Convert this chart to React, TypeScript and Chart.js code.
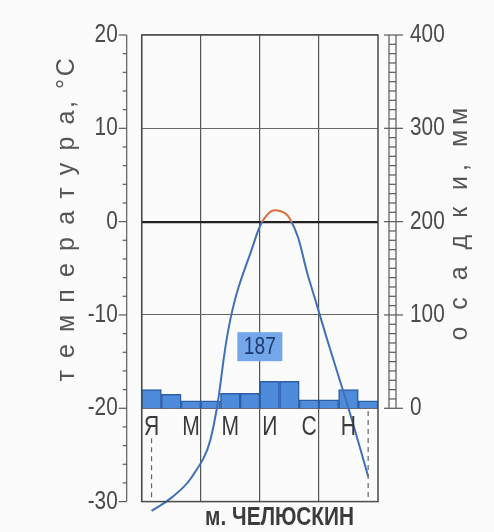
import React, { useEffect, useRef } from 'react';
import { Chart, registerables } from 'chart.js';

Chart.register(...registerables);

// ---- data ----
const months = ['Я', 'Ф', 'М', 'А', 'М', 'И', 'И', 'А', 'С', 'О', 'Н', 'Д'];
const temperature = [-31, -29.6, -27.5, -23.3, -10.5, -3.5, 1.0, 0.4, -6.2, -13.2, -20, -27.3];
const precipitation = [20, 15, 8, 8, 16, 16, 29, 29, 9, 9, 20, 8];
const tempTicks = [-30, -20, -10, 0, 10, 20];
const precipTicks = [0, 100, 200, 300, 400];
const stationName = 'м. ЧЕЛЮСКИН';
const tempTitle = 'т е м п е р а т у р а, °С';
const precipTitle = 'о с а д к и, мм';

const SANS = '"Liberation Sans", Arial, sans-serif';

const decor = {
  id: 'decor',
  beforeDraw(chart: any) {
    const { ctx, width, height } = chart;
    ctx.save();
    ctx.fillStyle = '#fbfbfb';
    ctx.fillRect(0, 0, width, height);
    ctx.restore();
  },
  afterDatasetsDraw(chart: any) {
    const { ctx, chartArea: a, scales } = chart;
    const y = scales.y, y1 = scales.y1, x = scales.x;
    const line = (x1: number, yy1: number, x2: number, yy2: number) => {
      ctx.beginPath();
      ctx.moveTo(x1, yy1);
      ctx.lineTo(x2, yy2);
      ctx.stroke();
    };
    const text = (t: string, tx: number, ty: number, align: string, sx: number) => {
      ctx.save();
      ctx.translate(tx, ty);
      ctx.scale(sx, 1);
      ctx.textAlign = align;
      ctx.textBaseline = 'middle';
      ctx.fillText(t, 0, 0);
      ctx.restore();
    };
    ctx.save();
    // plot frame
    ctx.strokeStyle = '#4a4a4a';
    ctx.lineWidth = 1.5;
    ctx.strokeRect(a.left, a.top, a.right - a.left, a.bottom - a.top);

    // left temperature axis (detached)
    const ax = a.left - 15;
    ctx.strokeStyle = '#5a5a5a';
    ctx.lineWidth = 1.2;
    line(ax, y.getPixelForValue(y.max), ax, y.getPixelForValue(y.min));
    for (let v = y.min; v <= y.max + 0.001; v += 2) {
      const p = y.getPixelForValue(v);
      const len = Math.abs(v % 10) < 0.001 ? 8 : 4;
      line(ax - len, p, ax, p);
    }

    // right precipitation ladder
    const lx1 = a.right + 11, lx2 = a.right + 18;
    const p0 = y1.getPixelForValue(0), pTop = y1.getPixelForValue(400);
    line(lx1, p0, lx1, pTop);
    line(lx2, p0, lx2, pTop);
    for (let v = 0; v <= 400; v += 10) {
      const p = y1.getPixelForValue(v);
      if (v % 100 === 0) line(a.right + 6, p, a.right + 25, p);
      else line(lx1, p, lx2, p);
    }

    // tick labels
    ctx.fillStyle = '#4a4a4a';
    ctx.font = `26px ${SANS}`;
    tempTicks.forEach((v) => text(String(v), a.left - 24, y.getPixelForValue(v), 'right', 0.8));
    precipTicks.forEach((v) => text(String(v), a.right + 32, y1.getPixelForValue(v), 'left', 0.8));

    // month letters under the -20 line
    ctx.fillStyle = '#3a3a3a';
    ctx.font = `27px ${SANS}`;
    months.forEach((m, i) => {
      if (i % 2 === 0) text(m, x.getPixelForValue(i), y.getPixelForValue(-20) + 19, 'center', 0.78);
    });

    // dashed lines under January and December
    ctx.setLineDash([5, 4]);
    ctx.strokeStyle = '#666';
    const xj = x.getPixelForValue(0), xd = x.getPixelForValue(11);
    line(xj, y.getPixelForValue(-23.2), xj, a.bottom);
    line(xd, y.getPixelForValue(-20.3), xd, a.bottom);
    ctx.setLineDash([]);

    // annual total box
    const total = precipitation.reduce((s, v) => s + v, 0);
    const bx = (x.getPixelForValue(5) + x.getPixelForValue(6)) / 2;
    const by = y.getPixelForValue(-13.4);
    ctx.fillStyle = '#74a6ea';
    ctx.fillRect(bx - 22.5, by - 14.5, 45, 29);
    ctx.fillStyle = '#1d3b6e';
    ctx.font = `24px ${SANS}`;
    text(String(total), bx, by + 1, 'center', 0.8);

    // axis titles (rotated)
    ctx.fillStyle = '#555';
    ctx.font = `25px ${SANS}`;
    ctx.textAlign = 'center';
    ctx.textBaseline = 'middle';
    (ctx as any).letterSpacing = '2.6px';
    ctx.save();
    ctx.translate(a.left - 75, y.getPixelForValue(0) - 3);
    ctx.rotate(-Math.PI / 2);
    ctx.fillText(tempTitle, 0, 0);
    ctx.restore();

    (ctx as any).letterSpacing = '5px';
    ctx.save();
    ctx.translate(a.right + 82, y1.getPixelForValue(200));
    ctx.rotate(-Math.PI / 2);
    ctx.fillText(precipTitle, 0, 0);
    ctx.restore();
    (ctx as any).letterSpacing = '0px';

    // station name
    ctx.fillStyle = '#3c3c3c';
    ctx.font = `bold 26px ${SANS}`;
    text(stationName, (x.getPixelForValue(6) + x.getPixelForValue(7)) / 2, a.bottom + 16, 'center', 0.8);
    ctx.restore();
  },
};

export default function App() {
  const ref = useRef<HTMLCanvasElement>(null);
  useEffect(() => {
    document.body.style.margin = '0';
    const canvas = ref.current!;
    const blue = '#3f70b8';
    const warm = '#d8703e';
    const chart = new Chart(canvas, {
      type: 'bar',
      data: {
        labels: months,
        datasets: [
          {
            type: 'line',
            label: 'температура',
            data: temperature,
            yAxisID: 'y',
            borderColor: (c: any) => {
              const ch = c.chart;
              const area = ch.chartArea;
              if (!area) return blue;
              const z = ch.scales.y.getPixelForValue(0);
              const g = ch.ctx.createLinearGradient(0, area.top, 0, area.bottom);
              const s = Math.min(1, Math.max(0, (z - area.top) / (area.bottom - area.top)));
              g.addColorStop(0, warm);
              g.addColorStop(s, warm);
              g.addColorStop(s, blue);
              g.addColorStop(1, blue);
              return g;
            },
            borderWidth: 2,
            pointRadius: 0,
            tension: 0.4,
            clip: false,
            order: 0,
          } as any,
          {
            type: 'bar',
            label: 'осадки',
            data: precipitation,
            yAxisID: 'y1',
            backgroundColor: '#4f8bdb',
            borderColor: '#2c5ea6',
            borderWidth: 1.5,
            barPercentage: 1,
            categoryPercentage: 1,
            order: 1,
          } as any,
        ],
      },
      options: {
        responsive: false,
        animation: false,
        layout: { padding: { top: 35, bottom: 30.4, left: 0, right: 0 } },
        plugins: { legend: { display: false }, tooltip: { enabled: false }, title: { display: false } },
        scales: {
          x: {
            type: 'category',
            position: 'bottom',
            offset: true,
            grid: {
              offset: true,
              color: (c: any) => (c.index % 3 === 0 ? '#555' : 'rgba(0,0,0,0)'),
              lineWidth: 1.2,
              drawTicks: false,
            },
            border: { display: false },
            ticks: { display: false },
            afterFit: (s: any) => { s.height = 0; },
          },
          y: {
            type: 'linear',
            position: 'left',
            min: -30,
            max: 20,
            ticks: { stepSize: 10, display: false },
            grid: {
              color: (c: any) => (c.tick && c.tick.value === 0 ? '#222' : '#666'),
              lineWidth: (c: any) => (c.tick && c.tick.value === 0 ? 2.2 : 1.1),
              drawTicks: false,
            },
            border: { display: false },
            afterFit: (s: any) => { s.width = 141.7; },
          },
          y1: {
            type: 'linear',
            position: 'right',
            min: -100,
            max: 400,
            ticks: { stepSize: 100, display: false },
            grid: { display: false, drawTicks: false },
            border: { display: false },
            afterFit: (s: any) => { s.width = 116; },
          },
        },
      } as any,
      plugins: [decor],
    });
    return () => chart.destroy();
  }, []);
  return (
    <div style={{ width: 494, height: 532 }}>
      <canvas ref={ref} width={494} height={532} style={{ display: 'block' }} />
    </div>
  );
}
